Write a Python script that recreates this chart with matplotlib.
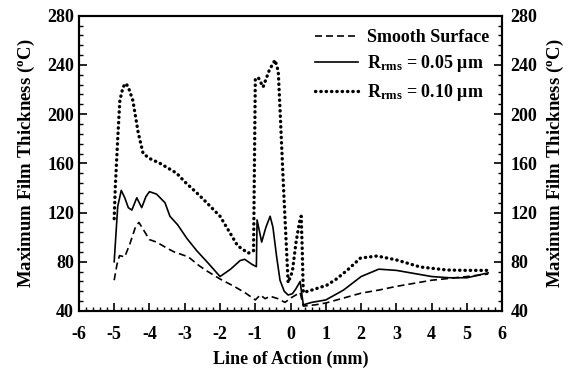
import matplotlib
matplotlib.use("Agg")
import matplotlib.pyplot as plt
from matplotlib.ticker import MultipleLocator

plt.rcParams['font.family'] = ['Liberation Serif', 'DejaVu Serif']
plt.rcParams['font.weight'] = 'bold'
plt.rcParams['axes.unicode_minus'] = False
plt.rcParams['mathtext.fontset'] = 'custom'
plt.rcParams['mathtext.rm'] = 'Liberation Serif:bold'
plt.rcParams['mathtext.it'] = 'Liberation Serif:bold'
plt.rcParams['mathtext.bf'] = 'Liberation Serif:bold'

# Smooth surface (dashed)
x_smooth = [-5.0, -4.92, -4.85, -4.7, -4.55, -4.4, -4.3, -4.15, -4.0, -3.8, -3.5, -3.3,
            -3.1, -2.9, -2.6, -2.4, -2.0, -1.6, -1.3, -1.0, -0.86, -0.72, -0.58, -0.36,
            -0.16, 0.03, 0.27, 0.36, 0.7, 1.0, 1.5, 2.0, 2.5, 3.0, 3.5, 4.0, 4.5, 5.0, 5.6]
y_smooth = [65, 78, 85, 84, 95, 108, 112, 105, 98, 96, 91, 88,
            86, 84, 77, 73, 66, 60, 55, 49, 53, 50, 52, 50,
            47, 51, 55, 44, 45, 46.5, 50.5, 54.5, 57, 60, 62.5, 65, 66.5, 68, 70]

# Rrms = 0.05 um (solid)
x_005 = [-5.0, -4.9, -4.8, -4.7, -4.6, -4.5, -4.36, -4.22, -4.1, -4.0, -3.8, -3.56,
         -3.42, -3.2, -2.94, -2.66, -2.34, -2.0, -1.7, -1.43, -1.3, -1.1, -0.97, -0.95,
         -0.82, -0.7, -0.58, -0.5, -0.4, -0.3, -0.18, -0.07, 0.05, 0.15, 0.27, 0.36,
         0.6, 1.0, 1.5, 2.0, 2.5, 3.0, 3.5, 4.0, 4.5, 5.0, 5.6]
y_005 = [80, 125, 138, 132, 124, 122, 132, 124, 133, 137, 135, 128,
         117, 110, 99, 89, 79, 68, 74, 81, 82, 78, 76, 114,
         96, 108, 117, 108, 85, 65, 56, 53, 54, 58, 64, 45,
         47, 49, 57, 68, 74, 73, 70.5, 68, 67, 67, 71]

# Rrms = 0.10 um (dotted)
x_010 = [-5.0, -4.97, -4.9, -4.84, -4.75, -4.67, -4.6, -4.47, -4.32, -4.18, -4.0, -3.7,
         -3.23, -3.0, -2.66, -2.48, -2.0, -1.5, -1.2, -1.05, -1.0, -0.92, -0.78, -0.6,
         -0.44, -0.35, -0.3, -0.2, -0.07, 0.05, 0.15, 0.25, 0.3, 0.33, 0.36, 0.6,
         1.03, 1.3, 1.6, 1.98, 2.45, 3.0, 3.67, 4.43, 5.0, 5.6]
y_010 = [115, 140, 180, 211, 222, 225, 222, 211, 185, 168, 164, 160,
         152, 145, 136, 131, 117, 93, 87, 89, 228, 230, 222, 236,
         244, 235, 204, 140, 63, 72, 95, 112, 117, 90, 55, 57,
         61, 66, 73, 83, 84.7, 81.5, 75.8, 73.3, 73, 73]

labels = ['Smooth Surface', r'R$_{\mathregular{rms}}$ = 0.05 $\mathregular{\mu}$m',
          r'R$_{\mathregular{rms}}$ = 0.10 $\mathregular{\mu}$m']
x_ticks = [-6, -5, -4, -3, -2, -1, 0, 1, 2, 3, 4, 5, 6]
y_ticks = [40, 80, 120, 160, 200, 240, 280]

fig = plt.figure(figsize=(5.76, 3.70), dpi=100)
ax = fig.add_axes([0.137, 0.1595, 0.735, 0.798])

ax.plot(x_smooth, y_smooth, color='black', lw=1.2, ls=(0, (4.2, 2.4)), label=labels[0])
ax.plot(x_005, y_005, color='black', lw=1.2, ls='-', label=labels[1])
ax.plot(x_010, y_010, color='black', lw=2.4, ls=(0, (0.1, 1.5)), dash_capstyle='round',
        label=labels[2])

ax.set_xlim(-6, 6)
ax.set_ylim(40, 280)
ax.set_xticks(x_ticks)
ax.set_yticks(y_ticks)
ax.xaxis.set_minor_locator(MultipleLocator(0.2))
ax.yaxis.set_minor_locator(MultipleLocator(8))
ax.tick_params(axis='both', which='major', direction='in', length=6, width=1.2,
               labelsize=13, top=False, right=True)
ax.tick_params(axis='both', which='minor', direction='in', length=3, width=1.0,
               top=False, right=True)
ax.tick_params(axis='x', pad=11)
for lab in ax.get_xticklabels() + ax.get_yticklabels():
    lab.set_fontweight('bold')
for s in ax.spines.values():
    s.set_linewidth(1.5)

ax.set_xlabel('Line of Action (mm)', fontsize=13, fontweight='bold', labelpad=5)
ax.set_ylabel(r'Maximum Film Thickness ($^{\mathregular{o}}$C)', fontsize=13.5,
              fontweight='bold', labelpad=7)

ax2 = ax.twinx()
ax2.set_ylim(40, 280)
ax2.set_yticks(y_ticks)
ax2.yaxis.set_minor_locator(MultipleLocator(8))
ax2.tick_params(axis='y', which='major', direction='in', length=6, width=1.2,
                labelsize=13, pad=6)
ax2.tick_params(axis='y', which='minor', direction='in', length=3, width=1.0)
for lab in ax2.get_yticklabels():
    lab.set_fontweight('bold')
ax2.set_ylabel(r'Maximum Film Thickness ($^{\mathregular{o}}$C)', fontsize=13.5,
               fontweight='bold', labelpad=5, rotation=90)
for s in ax2.spines.values():
    s.set_linewidth(1.5)

leg = ax.legend(loc='upper right', frameon=False, fontsize=13, handlelength=2.4,
                borderaxespad=0.0, labelspacing=0.42, handletextpad=0.5,
                bbox_to_anchor=(0.986, 0.98))
for t in leg.get_texts():
    t.set_fontweight('bold')

fig.savefig('out.png', dpi=100)
